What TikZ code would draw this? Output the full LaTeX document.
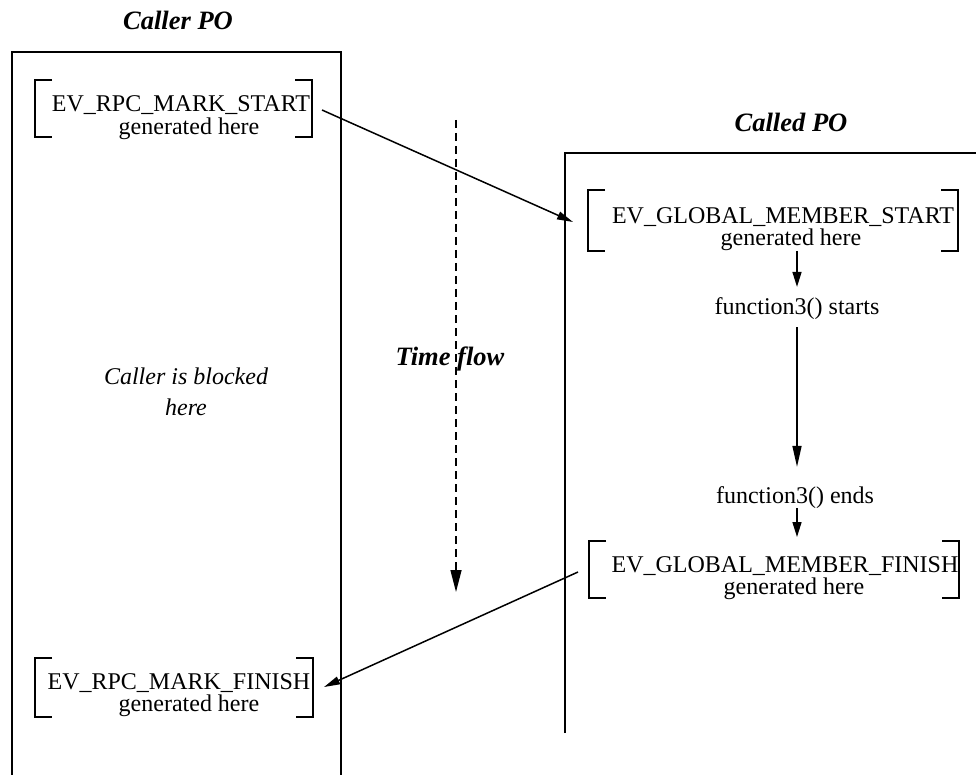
\documentclass[tikz,border=0pt]{standalone}
\usepackage{fontspec}
\setmainfont{Liberation Serif}
\usetikzlibrary{arrows.meta}
\begin{document}
\begin{tikzpicture}[x=1pt,y=-1pt,
  pobox/.style={line width=2.4pt},
  brk/.style={line width=1.6pt},
  evtext/.style={align=center, inner sep=0pt, font=\fontsize{24}{22.5}\selectfont},
  fntext/.style={inner sep=0pt, anchor=base, font=\fontsize{24}{26}\selectfont},
  heading/.style={inner sep=0pt, anchor=base, font=\fontsize{26.5}{28}\selectfont\bfseries\itshape},
  note/.style={inner sep=0pt, align=center, font=\fontsize{24}{31}\selectfont\itshape},
  msg/.style={line width=1.5pt, -{Triangle[length=16pt,width=8pt]}},
  seqarrow/.style={line width=1.5pt, -{Triangle[length=15pt,width=9pt]}},
  timeline/.style={line width=1.4pt, dash pattern=on 8pt off 5pt, -{Triangle[length=22pt,width=11pt]}}]

\clip (0,0) rectangle (976,775);
\fill[white] (0,0) rectangle (976,775);

% square bracket pair: left x, right x, top y, bottom y
\newcommand\evbracket[4]{%
  \draw[brk] (#1+17,#3) -- (#1,#3) -- (#1,#4) -- (#1+17,#4);
  \draw[brk] (#2-17,#3) -- (#2,#3) -- (#2,#4) -- (#2-17,#4);}

% calling process
\draw[pobox] (12,800) -- (12,52) -- (341,52) -- (341,800);
\node[heading] (callerT) at (178,30) {Caller PO};

% called process
\draw[pobox] (565,733) -- (565,153) -- (1000,153);
\node[heading] (calledT) at (791,131.7) {Called PO};

% events
\evbracket{35}{312}{80}{137}
\node[evtext] (s1) at (181,117.6) {EV\_RPC\_MARK\_START\\\hspace*{16pt}generated here};

\evbracket{588}{958}{190}{251}
\node[evtext] (s2) at (783,229) {EV\_GLOBAL\_MEMBER\_START\\\hspace*{16pt}generated here};

\evbracket{589}{959}{541}{598}
\node[evtext] (s4) at (785,578) {EV\_GLOBAL\_MEMBER\_FINISH\\\hspace*{18pt}generated here};

\evbracket{35}{313}{658}{717}
\node[evtext] (s3) at (179,695) {EV\_RPC\_MARK\_FINISH\\\hspace*{20pt}generated here};

% member function inside the called process
\node[fntext] (f3s) at (797,314) {function3() starts};
\node[fntext] (f3e) at (795,503) {function3() ends};

\draw[seqarrow, shorten >=10pt] (s2.south -| f3s.north) -- (f3s.north);
\draw[seqarrow, -{Triangle[length=21pt,width=9pt]}, shorten <=8pt, shorten >=19pt] (f3s.south) -- (f3s.south |- f3e.north);
\draw[seqarrow, shorten >=19pt] (f3s.south |- f3e.south) -- (f3s.south |- s4.north);

% call and return messages
\coordinate (callA) at (322,110);
\coordinate (callB) at (573,222);
\coordinate (retA) at (578,572);
\coordinate (retB) at (324,687);
\draw[msg] (callA) -- (callB);
\draw[msg] (retA) -- (retB);

% time axis
\coordinate (tTop) at (456,120);
\coordinate (tBot) at (456,592);
\draw[timeline] (tTop) -- (tBot);
\node[heading] (tf) at (450,365) {Time flow};

\node[note] (blk) at (186,391.5) {Caller is blocked\\here};
\end{tikzpicture}
\end{document}
